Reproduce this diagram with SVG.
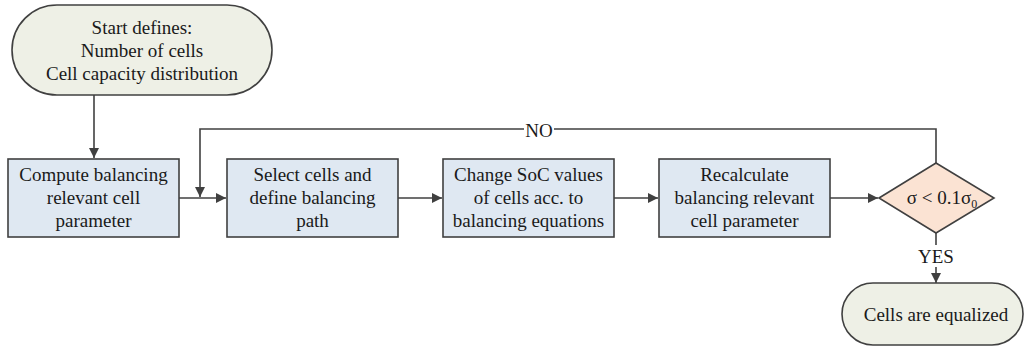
<svg xmlns="http://www.w3.org/2000/svg" width="1025" height="353" viewBox="0 0 1025 353">
<style>
text{font-family:'Liberation Serif','DejaVu Serif',serif;font-size:19px;fill:#1a1a1a;text-anchor:middle}
.term{fill:#eef0e6;stroke:#404040;stroke-width:1.6}
.proc{fill:#dfe8f2;stroke:#404040;stroke-width:1.6}
.dec{fill:#fbe3d3;stroke:#404040;stroke-width:1.6}
.con{fill:none;stroke:#404040;stroke-width:1.6}
</style>
<defs>
<marker id="ah" viewBox="0 0 10 10" refX="10" refY="5" markerWidth="10" markerHeight="10" markerUnits="userSpaceOnUse" orient="auto">
<path d="M0,0 L10,5 L0,10 Z" fill="#404040"/>
</marker>
</defs>
<g id="connectors">
<path class="con" d="M94,95 V158" marker-end="url(#ah)"/>
<path class="con" d="M179,198 H226" marker-end="url(#ah)"/>
<path class="con" d="M936,163 V129 H200 V197" marker-end="url(#ah)"/>
<path class="con" d="M398,198 H442" marker-end="url(#ah)"/>
<path class="con" d="M614,198 H658" marker-end="url(#ah)"/>
<path class="con" d="M830,198 H878" marker-end="url(#ah)"/>
<path class="con" d="M936,233 V245"/>
<path class="con" d="M936,267 V283" marker-end="url(#ah)"/>
<rect x="524" y="121" width="30" height="16" fill="#ffffff"/>
<text x="539" y="137">NO</text>
<text x="936" y="263">YES</text>
</g>
<g id="start">
<rect class="term" x="12" y="5" width="260" height="90" rx="45" ry="45"/>
<text x="142" y="34">Start defines:</text>
<text x="142" y="57">Number of cells</text>
<text x="142" y="80">Cell capacity distribution</text>
</g>
<g id="compute">
<rect class="proc" x="8" y="159" width="171" height="78"/>
<text x="93.5" y="181">Compute balancing</text>
<text x="93.5" y="204">relevant cell</text>
<text x="93.5" y="227">parameter</text>
</g>
<g id="select">
<rect class="proc" x="227" y="159" width="171" height="78"/>
<text x="312.5" y="181">Select cells and</text>
<text x="312.5" y="204">define balancing</text>
<text x="312.5" y="227">path</text>
</g>
<g id="change">
<rect class="proc" x="443" y="159" width="171" height="78"/>
<text x="528.5" y="181">Change SoC values</text>
<text x="528.5" y="204">of cells acc. to</text>
<text x="528.5" y="227">balancing equations</text>
</g>
<g id="recalc">
<rect class="proc" x="659" y="159" width="171" height="78"/>
<text x="744.5" y="181">Recalculate</text>
<text x="744.5" y="204">balancing relevant</text>
<text x="744.5" y="227">cell parameter</text>
</g>
<g id="decision">
<polygon class="dec" points="879,198 936,163 994,198 936,233"/>
<text x="942" y="204">σ  &lt; 0.1σ<tspan font-size="12" dy="4">0</tspan></text>
</g>
<g id="end">
<rect class="term" x="842" y="283" width="181" height="62" rx="31" ry="31"/>
<text x="936" y="321">Cells are equalized</text>
</g>
</svg>
